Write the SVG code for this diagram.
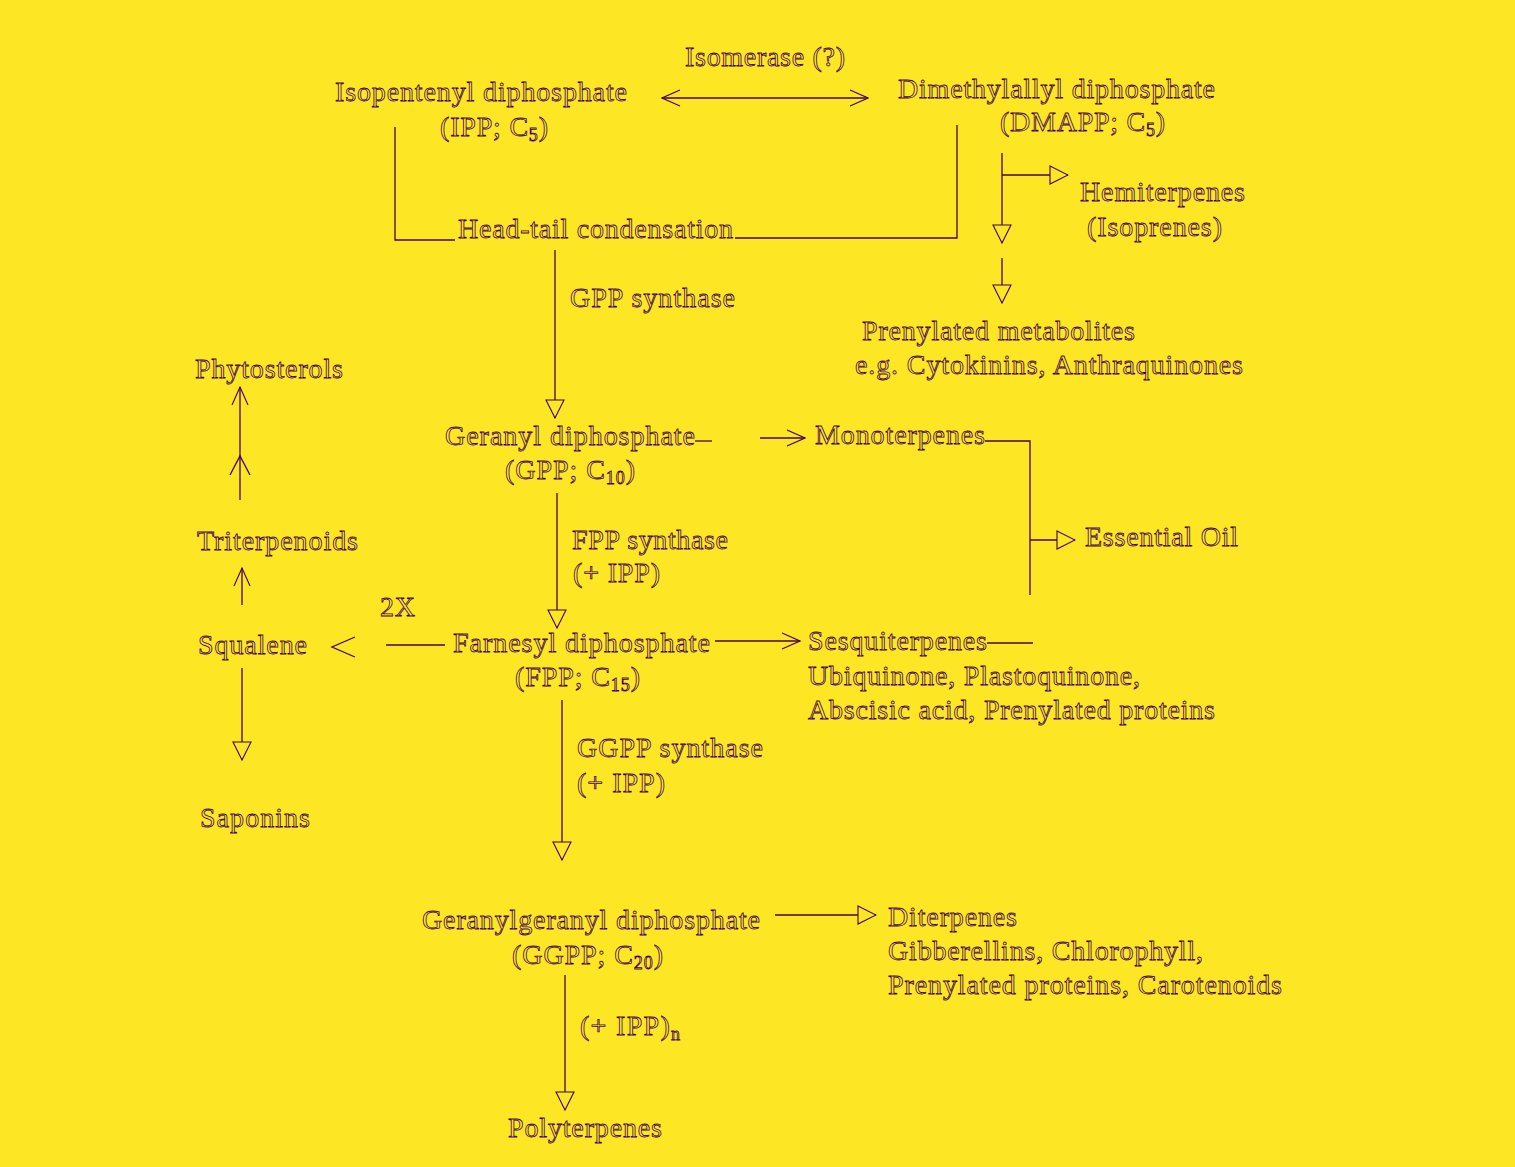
<svg xmlns="http://www.w3.org/2000/svg" width="1515" height="1167" viewBox="0 0 1515 1167">
<style>
text{font-family:"Liberation Serif","Times New Roman",serif;font-size:28px;fill:#FDE725;stroke:#440154;stroke-width:0.8;}
.ln{fill:none;stroke:#440154;stroke-width:1.3;}
.sub{font-size:18px;}
</style>
<defs>
<marker id="tri" viewBox="0 0 20 20" refX="19" refY="10" markerWidth="20" markerHeight="20" markerUnits="userSpaceOnUse" orient="auto">
<path d="M1,1 L19,10 L1,19 Z" fill="#FDE725" stroke="#440154" stroke-width="1.1"/>
</marker>
<marker id="chev" viewBox="0 0 20 20" refX="19" refY="10" markerWidth="20" markerHeight="20" markerUnits="userSpaceOnUse" orient="auto">
<path d="M1,2 L19,10 L1,18" fill="none" stroke="#440154" stroke-width="1.1"/>
</marker>
<marker id="chevs" viewBox="0 0 20 20" refX="1" refY="10" markerWidth="20" markerHeight="20" markerUnits="userSpaceOnUse" orient="auto">
<path d="M19,2 L1,10 L19,18" fill="none" stroke="#440154" stroke-width="1.1"/>
</marker>
</defs>
<rect width="1515" height="1167" fill="#FDE725"/>
<g id="connectors">
<line class="ln" x1="662" y1="98" x2="868" y2="98" marker-start="url(#chevs)" marker-end="url(#chev)"/>
<polyline class="ln" points="395,127 395,240 455,240"/>
<polyline class="ln" points="735,238 957,238 957,125"/>
<line class="ln" x1="1002" y1="153" x2="1002" y2="243" marker-end="url(#tri)"/>
<line class="ln" x1="1002" y1="175" x2="1068" y2="175" marker-end="url(#tri)"/>
<line class="ln" x1="1002" y1="258" x2="1002" y2="303" marker-end="url(#tri)"/>
<line class="ln" x1="555" y1="250" x2="555" y2="418" marker-end="url(#tri)"/>
<line class="ln" x1="695" y1="441" x2="712" y2="441"/>
<line class="ln" x1="760" y1="438" x2="805" y2="438" marker-end="url(#chev)"/>
<polyline class="ln" points="985,441 1030,441 1030,595"/>
<line class="ln" x1="1030" y1="540" x2="1075" y2="540" marker-end="url(#tri)"/>
<line class="ln" x1="557" y1="493" x2="557" y2="628" marker-end="url(#tri)"/>
<line class="ln" x1="715" y1="641" x2="800" y2="641" marker-end="url(#chev)"/>
<line class="ln" x1="987" y1="643" x2="1033" y2="643"/>
<line class="ln" x1="386" y1="645" x2="445" y2="645"/>
<polyline class="ln" points="355,637 332,647 355,657"/>
<line class="ln" x1="242" y1="668" x2="242" y2="760" marker-end="url(#tri)"/>
<line class="ln" x1="242" y1="605" x2="242" y2="568" marker-end="url(#chev)"/>
<line class="ln" x1="240" y1="500" x2="240" y2="387" marker-end="url(#chev)"/>
<polyline class="ln" points="230,475 240,456 250,475"/>
<line class="ln" x1="562" y1="700" x2="562" y2="860" marker-end="url(#tri)"/>
<line class="ln" x1="775" y1="915" x2="876" y2="915" marker-end="url(#tri)"/>
<line class="ln" x1="565" y1="975" x2="565" y2="1110" marker-end="url(#tri)"/>
</g>
<g id="isomerase"><text x="685" y="66" textLength="160">Isomerase (?)</text></g>
<g id="ipp"><text x="335" y="101" textLength="292">Isopentenyl diphosphate</text><text x="440" y="136" textLength="108">(IPP; C<tspan class="sub" dy="5">5</tspan><tspan dy="-5">)</tspan></text></g>
<g id="dmapp"><text x="898" y="98" textLength="317">Dimethylallyl diphosphate</text><text x="1000" y="131" textLength="165">(DMAPP; C<tspan class="sub" dy="5">5</tspan><tspan dy="-5">)</tspan></text></g>
<g id="hemiterpenes"><text x="1080" y="201" textLength="165">Hemiterpenes</text><text x="1087" y="236" textLength="135">(Isoprenes)</text></g>
<g id="condensation"><text x="458" y="238" textLength="275">Head-tail condensation</text></g>
<g id="gpp-synthase"><text x="570" y="307" textLength="165">GPP synthase</text></g>
<g id="prenylated-metabolites"><text x="862" y="340" textLength="273">Prenylated metabolites</text><text x="855" y="374" textLength="388">e.g. Cytokinins, Anthraquinones</text></g>
<g id="phytosterols"><text x="195" y="378" textLength="148">Phytosterols</text></g>
<g id="gpp"><text x="445" y="445" textLength="250">Geranyl diphosphate</text><text x="505" y="479" textLength="130">(GPP; C<tspan class="sub" dy="5">10</tspan><tspan dy="-5">)</tspan></text></g>
<g id="monoterpenes"><text x="815" y="444" textLength="170">Monoterpenes</text></g>
<g id="essential-oil"><text x="1085" y="546" textLength="153">Essential Oil</text></g>
<g id="triterpenoids"><text x="197" y="550" textLength="161">Triterpenoids</text></g>
<g id="fpp-synthase"><text x="572" y="549" textLength="156">FPP synthase</text><text x="573" y="582" textLength="87">(+ IPP)</text></g>
<g id="twox"><text x="380" y="616" textLength="35">2X</text></g>
<g id="squalene"><text x="198" y="654" textLength="109">Squalene</text></g>
<g id="fpp"><text x="453" y="652" textLength="257">Farnesyl diphosphate</text><text x="515" y="686" textLength="125">(FPP; C<tspan class="sub" dy="5">15</tspan><tspan dy="-5">)</tspan></text></g>
<g id="sesquiterpenes"><text x="808" y="650" textLength="179">Sesquiterpenes</text><text x="808" y="685" textLength="332">Ubiquinone, Plastoquinone,</text><text x="808" y="719" textLength="407">Abscisic acid, Prenylated proteins</text></g>
<g id="ggpp-synthase"><text x="577" y="757" textLength="186">GGPP synthase</text><text x="577" y="792" textLength="88">(+ IPP)</text></g>
<g id="saponins"><text x="200" y="827" textLength="110">Saponins</text></g>
<g id="ggpp"><text x="422" y="929" textLength="338">Geranylgeranyl diphosphate</text><text x="512" y="964" textLength="151">(GGPP; C<tspan class="sub" dy="5">20</tspan><tspan dy="-5">)</tspan></text></g>
<g id="diterpenes"><text x="888" y="926" textLength="129">Diterpenes</text><text x="888" y="960" textLength="315">Gibberellins, Chlorophyll,</text><text x="888" y="994" textLength="394">Prenylated proteins, Carotenoids</text></g>
<g id="ipp-n"><text x="580" y="1035" textLength="100">(+ IPP)<tspan class="sub" dy="5">n</tspan></text></g>
<g id="polyterpenes"><text x="508" y="1137" textLength="154">Polyterpenes</text></g>
</svg>
